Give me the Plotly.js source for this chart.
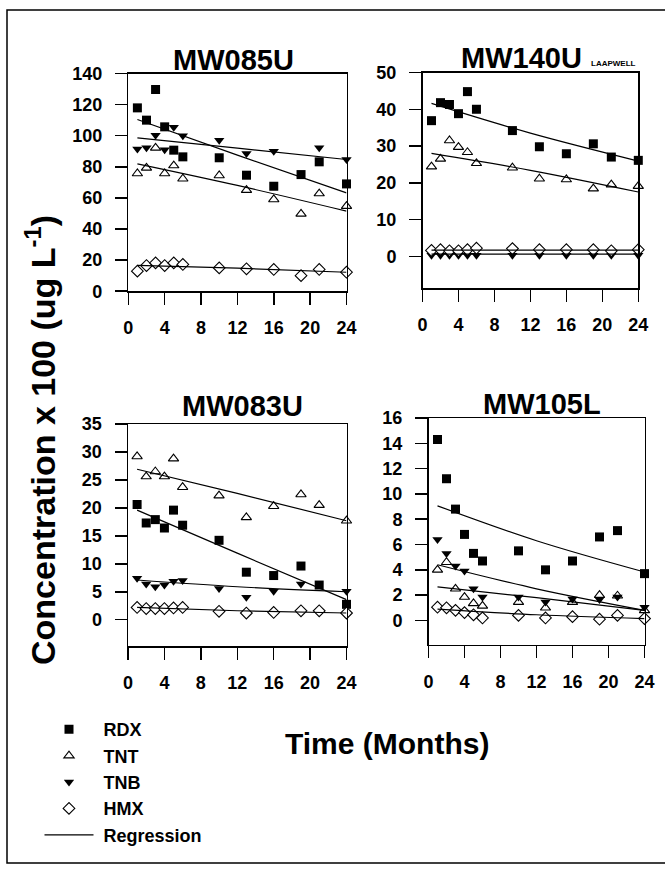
<!DOCTYPE html>
<html><head><meta charset="utf-8">
<script src="https://cdn.plot.ly/plotly-3.0.1.min.js"></script>
<style>body{margin:0;background:#fff}#chart{width:665px;height:869px}</style>
</head><body><div id="chart"></div>
<script>
// ---- data ----
const months = [1, 2, 3, 4, 5, 6, 10, 13, 16, 19, 21, 24];
const regMonths = [1, 12, 24];
const xTicks = [0, 4, 8, 12, 16, 20, 24];
const species = ["RDX", "TNT", "TNB", "HMX"];
const regressionLabel = "Regression";
const panelTitles = ["MW085U", "MW140U", "MW083U", "MW105L"];
const panelNote = "LAAPWELL";

// MW085U
const mw085u_rdx = [117.9, 110, 129.7, 105.7, 90.7, 86.4, 85.8, 74.6, 67.5, 75, 83.2, 69];
const mw085u_tnt = [75.7, 79.3, 92.2, 75.7, 80.8, 72.3, 74.4, 65, 59, 49.7, 62.8, 54.7];
const mw085u_tnb = [91.5, 92.2, 100.3, 91, 105.5, 100, 97, 88.5, 90, null, 92.2, 84.7];
const mw085u_hmx = [12.9, 16.5, 18.2, 16.5, 18.2, 17.2, 15, 14.4, 14, 10, 14, 12.2];
const mw085u_rdx_fit = [110.4, 87.5, 63.2];
const mw085u_tnt_fit = [81.9, 68, 51.5];
const mw085u_tnb_fit = [98.6, 92, 84.7];
const mw085u_hmx_fit = [16.6, 14.8, 12.2];

// MW140U
const mw140u_rdx = [36.9, 41.8, 41.3, 38.8, 44.8, 40, 34.2, 29.8, 27.9, 30.6, 27, 26.1];
const mw140u_tnt = [24.4, 26.5, 31.5, 29.7, 28.3, 25.3, 24.1, 21.1, 20.9, 18.4, 19.5, 19.1];
const mw140u_tnb = [0.3, 0.3, 0.3, 0.3, 0.3, 0.3, 0.3, 0.3, 0.3, 0.3, 0.3, 0.3];
const mw140u_hmx = [1.6, 1.8, 1.5, 1.5, 1.8, 2.2, 2.1, 1.8, 1.8, 1.8, 1.5, 1.8];
const mw140u_rdx_fit = [41.6, 33.5, 25.9];
const mw140u_tnt_fit = [28, 23.4, 17.5];
const mw140u_tnb_fit = [0.6, 0.6, 0.6];
const mw140u_hmx_fit = [1.7, 1.7, 1.7];

// MW083U
const mw083u_rdx = [20.6, 17.3, 17.9, 16.4, 19.6, 16.9, 14.2, 8.5, 7.9, 9.6, 6.2, 2.75];
const mw083u_tnt = [29.2, 25.6, 26.5, 25.6, 28.8, 23.7, 22.2, 18.3, 20.3, 22.4, 20.5, 17.7];
const mw083u_tnb = [7.4, 6.4, 5.9, 6.2, 6.9, 7.0, 5.6, 4.0, 5.1, 6.4, null, 5.1];
const mw083u_hmx = [2.2, 2.0, 2.0, 2.0, 2.1, 2.2, 1.5, 1.2, 1.3, 1.6, 1.6, 1.2];
const mw083u_rdx_fit = [19.6, 11.9, 3.6];
const mw083u_tnt_fit = [26.9, 22.6, 17.7];
const mw083u_tnb_fit = [7.1, 5.9, 5.0];
const mw083u_hmx_fit = [2.2, 1.6, 1.2];

// MW105L
const mw105l_rdx = [14.3, 11.2, 8.8, 6.8, 5.3, 4.7, 5.5, 4.0, 4.7, 6.6, 7.1, 3.7];
const mw105l_tnt = [4.0, 4.6, 2.5, 1.85, 1.35, 1.15, 1.45, 1.0, 1.45, 2.0, 1.95, 0.8];
const mw105l_tnb = [6.4, 5.3, 4.3, 3.9, 2.5, 1.85, 1.85, 1.45, 1.7, 1.65, 1.85, 1.05];
const mw105l_hmx = [1.05, 1.0, 0.8, 0.62, 0.45, 0.2, 0.4, 0.2, 0.3, 0.1, 0.4, 0.15];
const mw105l_rdx_fit = [9.06, 6.3, 3.83];
const mw105l_tnt_fit = [2.65, 1.8, 0.8];
const mw105l_tnb_fit = [4.4, 2.5, 0.8];
const mw105l_hmx_fit = [0.9, 0.45, 0.15];

const panelData = [
  [mw085u_rdx, mw085u_tnt, mw085u_tnb, mw085u_hmx],
  [mw140u_rdx, mw140u_tnt, mw140u_tnb, mw140u_hmx],
  [mw083u_rdx, mw083u_tnt, mw083u_tnb, mw083u_hmx],
  [mw105l_rdx, mw105l_tnt, mw105l_tnb, mw105l_hmx]
];
const panelFits = [
  [mw085u_rdx_fit, mw085u_tnt_fit, mw085u_tnb_fit, mw085u_hmx_fit],
  [mw140u_rdx_fit, mw140u_tnt_fit, mw140u_tnb_fit, mw140u_hmx_fit],
  [mw083u_rdx_fit, mw083u_tnt_fit, mw083u_tnb_fit, mw083u_hmx_fit],
  [mw105l_rdx_fit, mw105l_tnt_fit, mw105l_tnb_fit, mw105l_hmx_fit]
];
const yTicks = [
  [0, 20, 40, 60, 80, 100, 120, 140],
  [0, 10, 20, 30, 40, 50],
  [0, 5, 10, 15, 20, 25, 30, 35],
  [0, 2, 4, 6, 8, 10, 12, 14, 16]
];
const yRanges = [[0, 140], [-8.7, 50], [-4.7, 35], [-1.9, 16]];

// ---- layout geometry (pixels) ----
const W = 665, H = 869;
const boxes = [
  {x0: 128.3, x1: 346.5, y0: 73.5, y1: 291.2},
  {x0: 422.5, x1: 638.3, y0: 72.5, y1: 288.3},
  {x0: 128.0, x1: 346.5, y0: 424.0, y1: 646.0},
  {x0: 428.5, x1: 644.5, y0: 418.0, y1: 644.5}
];
const FONT = "Liberation Sans, Arial, sans-serif";
const NB = "\u00a0";

const markerStyles = [
  {symbol: "square", size: 9, color: "#000", line: {width: 0}},
  {symbol: "triangle-up", size: 9, color: "#fff", line: {color: "#000", width: 1.1}},
  {symbol: "triangle-down", size: 9, color: "#000", line: {width: 0}},
  {symbol: "diamond", size: 9, color: "#fff", line: {color: "#000", width: 1.1}}
];

const traces = [];
panelData.forEach((series, p) => {
  const ax = p === 0 ? "" : String(p + 1);
  series.forEach((vals, s) => {
    traces.push({
      type: "scatter", mode: "markers", x: months, y: vals,
      xaxis: "x" + ax, yaxis: "y" + ax,
      name: NB + species[s], legendgroup: species[s], showlegend: p === 0,
      marker: markerStyles[s], cliponaxis: false, hoverinfo: "skip"
    });
  });
});
panelFits.forEach((fits, p) => {
  const ax = p === 0 ? "" : String(p + 1);
  fits.forEach((vals, s) => {
    traces.push({
      type: "scatter", mode: "lines", x: regMonths, y: vals,
      xaxis: "x" + ax, yaxis: "y" + ax,
      name: NB + regressionLabel, legendgroup: "reg", showlegend: p === 0 && s === 0,
      line: {color: "#000", width: 1.2, shape: "spline", smoothing: 1},
      hoverinfo: "skip"
    });
  });
});

const layout = {
  width: W, height: H,
  margin: {l: 0, r: 0, t: 0, b: 0},
  paper_bgcolor: "#fff", plot_bgcolor: "#fff",
  font: {family: FONT, color: "#000"},
  showlegend: true,
  legend: {
    x: 39.5 / W, y: 1 - 711 / H, xanchor: "left", yanchor: "top",
    itemwidth: 49, bgcolor: "rgba(0,0,0,0)", borderwidth: 0,
    traceorder: "grouped", tracegroupgap: 0,
    font: {family: FONT, size: 18, weight: "bold", color: "#000"}
  },
  annotations: [], shapes: []
};

boxes.forEach((b, p) => {
  const ax = p === 0 ? "" : String(p + 1);
  const common = {
    showline: true, mirror: true, linecolor: "#000", linewidth: 1.5,
    ticks: "outside", ticklen: 12, tickwidth: 1.5, tickcolor: "#000",
    showgrid: false, zeroline: false, fixedrange: true,
    tickfont: {family: FONT, size: 18, weight: "bold", color: "#000"}
  };
  layout["xaxis" + ax] = Object.assign({}, common, {
    domain: [b.x0 / W, b.x1 / W], range: [0, 24],
    tickvals: xTicks, ticktext: xTicks.map(String),
    anchor: "y" + ax, ticklabelstandoff: 8
  });
  layout["yaxis" + ax] = Object.assign({}, common, {
    domain: [1 - b.y1 / H, 1 - b.y0 / H], range: yRanges[p],
    tickvals: yTicks[p], ticktext: yTicks[p].map(String),
    anchor: "x" + ax, ticklabelstandoff: 9
  });
});

const titlePos = [[233, 60], [521, 58], [242, 406], [542, 404]];
panelTitles.forEach((t, p) => {
  layout.annotations.push({
    text: t, xref: "paper", yref: "paper",
    x: titlePos[p][0] / W, y: 1 - titlePos[p][1] / H,
    xanchor: "center", yanchor: "middle", showarrow: false,
    font: {family: FONT, size: 29, weight: "bold", color: "#000"}
  });
});
layout.annotations.push({
  text: panelNote, xref: "paper", yref: "paper",
  x: 589 / W, y: 1 - 64 / H, xanchor: "left", yanchor: "middle", showarrow: false,
  font: {family: FONT, size: 8, weight: "bold", color: "#000"}
});
layout.annotations.push({
  text: "Concentration x 100 (ug L<sup>-1</sup>)", xref: "paper", yref: "paper",
  x: 40 / W, y: 1 - 440 / H, xanchor: "center", yanchor: "middle",
  textangle: -90, showarrow: false,
  font: {family: FONT, size: 34, weight: "bold", color: "#000"}
});
layout.annotations.push({
  text: "Time (Months)", xref: "paper", yref: "paper",
  x: 387 / W, y: 1 - 743 / H, xanchor: "center", yanchor: "middle", showarrow: false,
  font: {family: FONT, size: 30, weight: "bold", color: "#000"}
});
layout.shapes.push({
  type: "rect", xref: "paper", yref: "paper",
  x0: 7 / W, x1: 1.02, y0: 1 - 863 / H, y1: 1 - 10 / H,
  line: {color: "#000", width: 1.5}, fillcolor: "rgba(0,0,0,0)"
});

Plotly.newPlot("chart", traces, layout, {displayModeBar: false, staticPlot: true});
</script></body></html>
